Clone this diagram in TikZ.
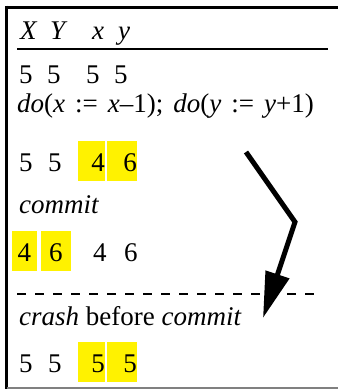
\documentclass[tikz,border=0pt]{standalone}
\usepackage{fontspec}
\setmainfont{Liberation Serif}
\usetikzlibrary{arrows.meta}

\begin{document}
\begin{tikzpicture}[
        x=1pt, y=-1pt,
        cell/.style={
            anchor=base west,
            inner sep=0pt,
            font=\fontsize{27}{31}\selectfont
        },
        hlcell/.style={
            anchor=base east,
            fill=yellow,
            inner sep=0pt,
            text height=30pt,
            text depth=10pt,
            text width=#1,
            align=right,
            font=\fontsize{27}{31}\selectfont
        },
        hlmid/.style={
            hlcell=#1,
            align=center
        },
        rule/.style={line width=2.5pt},
        arrow/.style={line width=5pt, -{Triangle[length=46pt,width=24pt]}}
    ]

        \useasboundingbox (0,0) rectangle (338,389);

        % frame
        \draw[line width=3pt] (5.5,7) -- (338,7);
        \draw[line width=3pt] (6.5,5.5) -- (6.5,389);
        \draw[line width=1.5pt, gray] (6.5,388) -- (338,388);

        % header
        \node[cell] (hX) at (20,39) {\textit{X}};
        \node[cell] (hY) at (50,39) {\textit{Y}};
        \node[cell] (hx) at (92,39) {\textit{x}};
        \node[cell] (hy) at (118,39) {\textit{y}};
        \draw[rule] (17,49) -- (328,49);

        % initial state
        \node[cell] (aX) at (19,83) {5};
        \node[cell] (aY) at (47,83) {5};
        \node[cell] (ax) at (86,83) {5};
        \node[cell] (ay) at (114,83) {5};

        \node[cell] (ops) at (17,112) {\spaceskip=10pt
            \textit{do}(\textit{x} := \textit{x}–1); \textit{do}(\textit{y} := \textit{y}+1)};

        % after the updates
        \node[cell] (bX) at (19,171) {5};
        \node[cell] (bY) at (48,171) {5};
        \node[hlcell=27pt] (bx) at (105,171) {4};
        \node[hlcell=30pt] (by) at (137,171) {6};

        \node[cell] (cmt) at (19,213) {\textit{commit}};

        % after commit
        \node[hlmid=25pt] (cX) at (37,261) {4};
        \node[hlmid=30pt] (cY) at (71,261) {6};
        \node[cell] (cx) at (93,261) {4};
        \node[cell] (cy) at (124,261) {6};

        \draw[rule, dash pattern=on 9pt off 9pt] (17,294) -- (316,294);

        \node[cell] (crash) at (19,325) {\textit{crash} before \textit{commit}};

        % after crash
        \node[cell] (dX) at (19,372) {5};
        \node[cell] (dY) at (48,372) {5};
        \node[hlcell=27pt] (dx) at (105,372) {5};
        \node[hlcell=30pt] (dy) at (137,372) {5};

        % timeline arrow
        \coordinate (tstart) at (246,152);
        \coordinate (tbend) at (295,222);
        \coordinate (tend) at (263,318);
        \draw[arrow] (tstart) -- (tbend) -- (tend);

    \end{tikzpicture}
\end{document}
